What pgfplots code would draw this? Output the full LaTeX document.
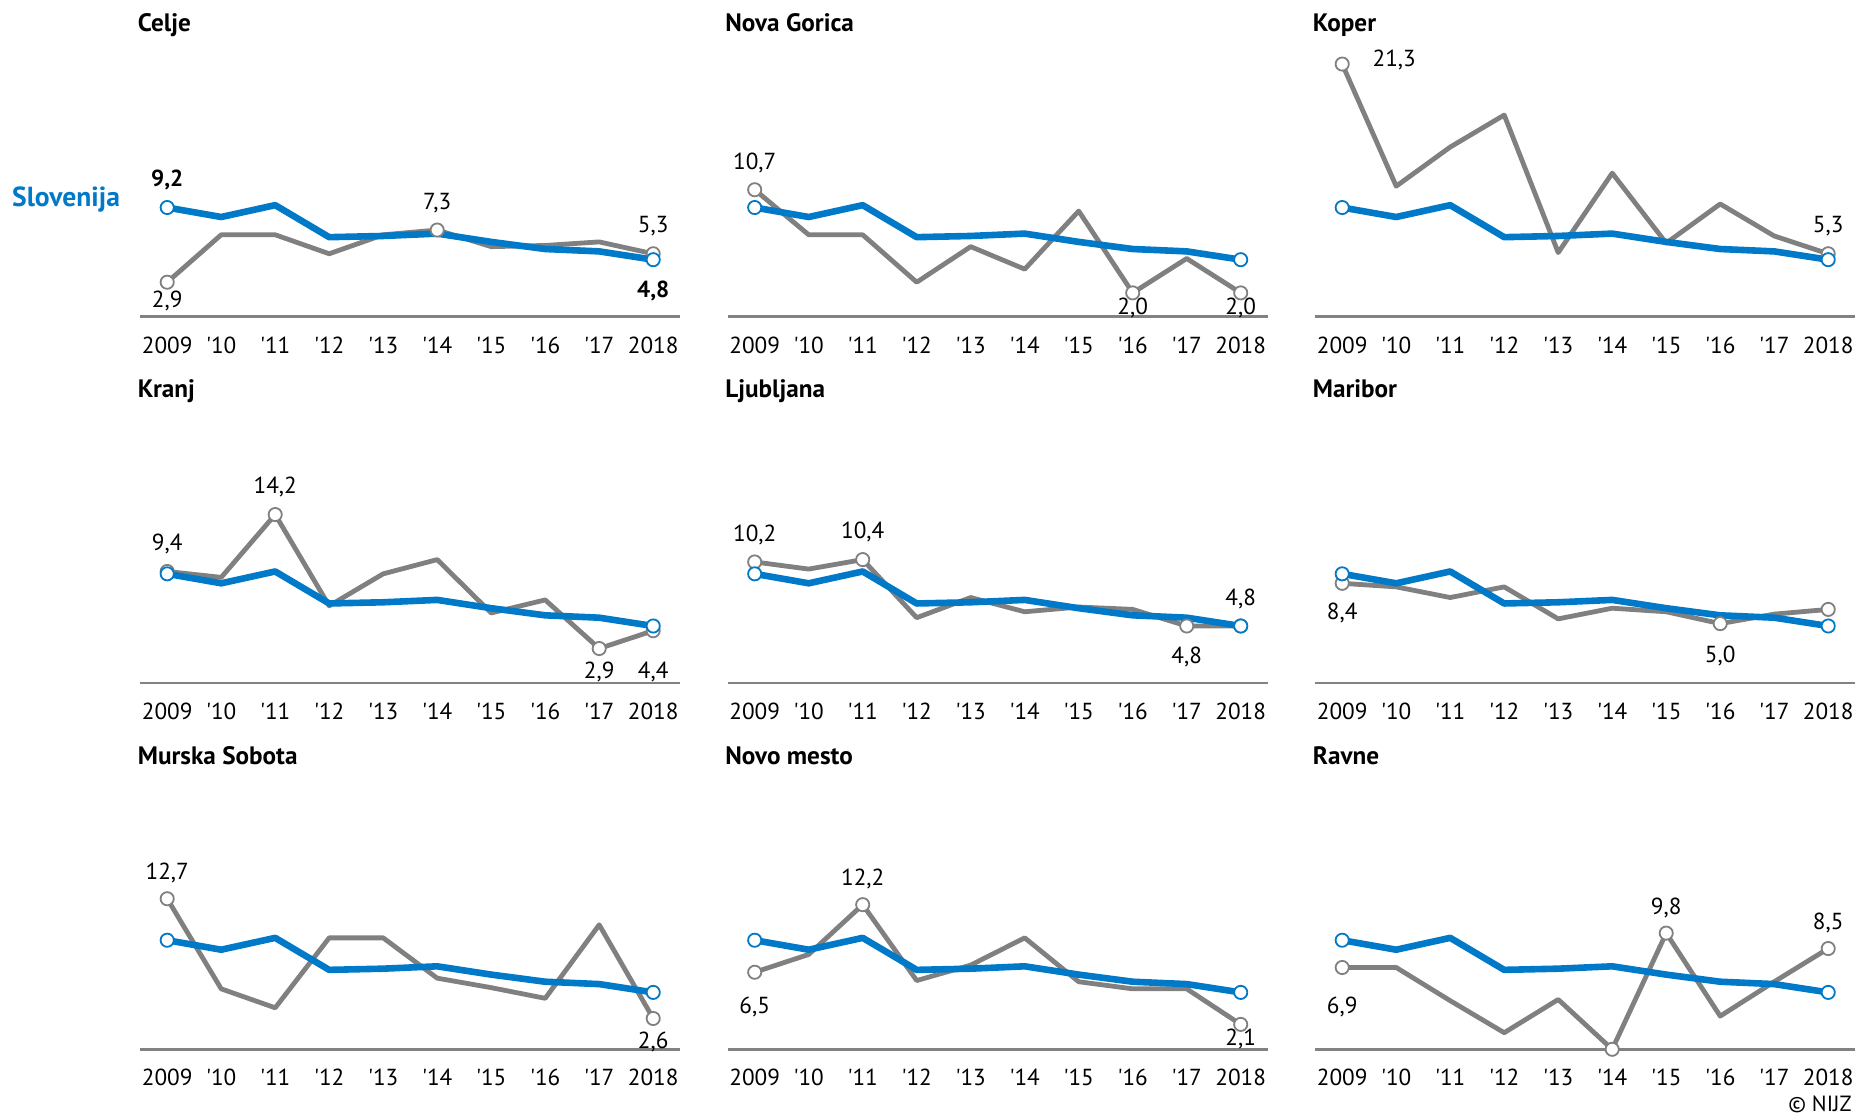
\documentclass[border=0pt]{standalone}
\usepackage{pgfplots}
\pgfplotsset{compat=1.18}
\usepackage{pgfplotstable}
\usepackage{fontspec}
\setmainfont{PT Sans}[Ligatures=TeXOff]
\definecolor{sloblue}{RGB}{0,121,200}
\definecolor{greyc}{RGB}{128,128,128}
\definecolor{axisgray}{RGB}{130,130,130}

\pgfplotstableread{
i slo celje ngor koper kranj lj mb ms nm ravne
0 9.2 2.9 10.7 21.3 9.4 10.2 8.4 12.7 6.5 6.9
1 8.4 6.9 6.9 11.0 8.9 9.6 8.1 5.1 8.0 6.9
2 9.4 6.9 6.9 14.3 14.2 10.4 7.2 3.5 12.2 4.1
3 6.7 5.3 2.9 17.0 6.5 5.5 8.1 9.4 5.8 1.4
4 6.8 6.9 5.9 5.4 9.2 7.2 5.4 9.4 7.1 4.2
5 7.0 7.3 4.0 12.1 10.4 6.0 6.3 6.0 9.4 0.0
6 6.3 5.9 8.9 6.2 5.9 6.4 6.0 5.2 5.7 9.8
7 5.7 6.0 2.0 9.5 7.0 6.2 5.0 4.3 5.1 2.8
8 5.5 6.3 4.9 6.8 2.9 4.8 5.8 10.5 5.1 5.7
9 4.8 5.3 2.0 5.3 4.4 4.8 6.2 2.6 2.1 8.5
}\data

\pgfplotsset{
  panel/.style={
    x=27pt, y=5.928pt, xmin=-0.5, xmax=9.5, ymin=0, ymax=22,
    anchor=south west, clip=false,
    axis y line=none, axis x line*=bottom,
    axis line style={draw=axisgray, line width=1.2pt, -},
    xtick={0,...,9},
    xticklabels={2009,'10,'11,'12,'13,'14,'15,'16,'17,2018},
    major tick length=0pt, xtick style={draw=none}, ytick=\empty,
    xticklabel style={anchor=base, yshift=-18.3pt, font=\fontsize{11.6}{13}\selectfont, inner sep=0pt},
  },
  greyline/.style={draw=greyc, line width=2.4pt, line join=round, no marks},
  blueline/.style={draw=sloblue, line width=3.3pt, line join=round, no marks},
  greymarks/.style={only marks, mark=*, mark size=3.3pt, mark options={fill=white, draw=greyc, line width=0.9pt}},
  bluemarks/.style={only marks, mark=*, mark size=3.3pt, mark options={fill=white, draw=sloblue, line width=0.9pt}},
}
\newcommand{\lbl}[4][]{\node[font=\fontsize{11.6}{13}\selectfont, inner sep=0pt, anchor=center, #1] at (axis cs:#2) [yshift=#3] {#4};}
\newcommand{\ptitle}[1]{\node[font=\fontsize{12.6}{14}\selectfont\bfseries, anchor=base west, inner sep=0pt] at (axis cs:-0.55,24.06) {#1};}
\newcommand{\slovenia}{%
  \addplot[blueline] table[x=i,y=slo]{\data};}

\begin{document}
\begin{tikzpicture}
\path[use as bounding box] (0,0) rectangle (929.5pt,558pt);

% Row 1
\begin{axis}[panel, at={(70.1pt,399.7pt)}]
\ptitle{Celje}
\addplot[greyline] table[x=i,y=celje]{\data};
\slovenia
\addplot[greymarks] coordinates {(0,2.9) (5,7.3) (9,5.3)};
\addplot[bluemarks] coordinates {(0,9.2) (9,4.8)};
\lbl{0,9.2}{13.6pt}{\textbf{9,2}}
\lbl{0,2.9}{-9.5pt}{2,9}
\lbl{5,7.3}{13.6pt}{7,3}
\lbl{9,5.3}{13.6pt}{5,3}
\lbl{9,4.8}{-15.4pt}{\textbf{4,8}}
\end{axis}

\begin{axis}[panel, at={(363.85pt,399.7pt)}]
\ptitle{Nova Gorica}
\addplot[greyline] table[x=i,y=ngor]{\data};
\slovenia
\addplot[greymarks] coordinates {(0,10.7) (7,2.0) (9,2.0)};
\addplot[bluemarks] coordinates {(0,9.2) (9,4.8)};
\lbl{0,10.7}{13.6pt}{10,7}
\lbl{7,2.0}{-7.7pt}{2,0}
\lbl{9,2.0}{-7.7pt}{2,0}
\end{axis}

\begin{axis}[panel, at={(657.6pt,399.7pt)}]
\ptitle{Koper}
\addplot[greyline] table[x=i,y=koper]{\data};
\slovenia
\addplot[greymarks] coordinates {(0,21.3) (9,5.3)};
\addplot[bluemarks] coordinates {(0,9.2) (9,4.8)};
\lbl[xshift=26pt]{0,21.3}{2pt}{21,3}
\lbl{9,5.3}{13.6pt}{5,3}
\end{axis}

% Row 2
\begin{axis}[panel, at={(70.1pt,216.55pt)}]
\ptitle{Kranj}
\addplot[greyline] table[x=i,y=kranj]{\data};
\slovenia
\addplot[greymarks] coordinates {(0,9.4) (2,14.2) (8,2.9) (9,4.4)};
\addplot[bluemarks] coordinates {(0,9.2) (9,4.8)};
\lbl{0,9.4}{13.6pt}{9,4}
\lbl{2,14.2}{13.6pt}{14,2}
\lbl{8,2.9}{-11.9pt}{2,9}
\lbl{9,4.4}{-20.8pt}{4,4}
\end{axis}

\begin{axis}[panel, at={(363.85pt,216.55pt)}]
\ptitle{Ljubljana}
\addplot[greyline] table[x=i,y=lj]{\data};
\slovenia
\addplot[greymarks] coordinates {(0,10.2) (2,10.4) (8,4.8) (9,4.8)};
\addplot[bluemarks] coordinates {(0,9.2) (9,4.8)};
\lbl{0,10.2}{13.6pt}{10,2}
\lbl{2,10.4}{13.6pt}{10,4}
\lbl{8,4.8}{-15.4pt}{4,8}
\lbl{9,4.8}{13.6pt}{4,8}
\end{axis}

\begin{axis}[panel, at={(657.6pt,216.55pt)}]
\ptitle{Maribor}
\addplot[greyline] table[x=i,y=mb]{\data};
\slovenia
\addplot[greymarks] coordinates {(0,8.4) (7,5.0) (9,6.2)};
\addplot[bluemarks] coordinates {(0,9.2) (9,4.8)};
\lbl{0,8.4}{-14.8pt}{8,4}
\lbl{7,5.0}{-16pt}{5,0}
\end{axis}

% Row 3
\begin{axis}[panel, at={(70.1pt,33.35pt)}]
\ptitle{Murska Sobota}
\addplot[greyline] table[x=i,y=ms]{\data};
\slovenia
\addplot[greymarks] coordinates {(0,12.7) (9,2.6)};
\addplot[bluemarks] coordinates {(0,9.2) (9,4.8)};
\lbl{0,12.7}{13pt}{12,7}
\lbl{9,2.6}{-11.9pt}{2,6}
\end{axis}

\begin{axis}[panel, at={(363.85pt,33.35pt)}]
\ptitle{Novo mesto}
\addplot[greyline] table[x=i,y=nm]{\data};
\slovenia
\addplot[greymarks] coordinates {(0,6.5) (2,12.2) (9,2.1)};
\addplot[bluemarks] coordinates {(0,9.2) (9,4.8)};
\lbl{0,6.5}{-17.2pt}{6,5}
\lbl{2,12.2}{13pt}{12,2}
\lbl{9,2.1}{-7.1pt}{2,1}
\end{axis}

\begin{axis}[panel, at={(657.6pt,33.35pt)}]
\ptitle{Ravne}
\addplot[greyline] table[x=i,y=ravne]{\data};
\slovenia
\addplot[greymarks] coordinates {(0,6.9) (5,0.0) (6,9.8) (9,8.5)};
\addplot[bluemarks] coordinates {(0,9.2) (9,4.8)};
\lbl{0,6.9}{-19.6pt}{6,9}
\lbl{6,9.8}{12.5pt}{9,8}
\lbl{9,8.5}{13pt}{8,5}
\end{axis}

\node[anchor=west, font=\fontsize{13.8}{16}\selectfont\bfseries, text=sloblue, inner sep=0pt] at (5.9pt,458.4pt) {Slovenija};
\node[anchor=east, font=\fontsize{11}{13}\selectfont, inner sep=0pt] at (926pt,6pt) {© NIJZ};
\end{tikzpicture}
\end{document}
